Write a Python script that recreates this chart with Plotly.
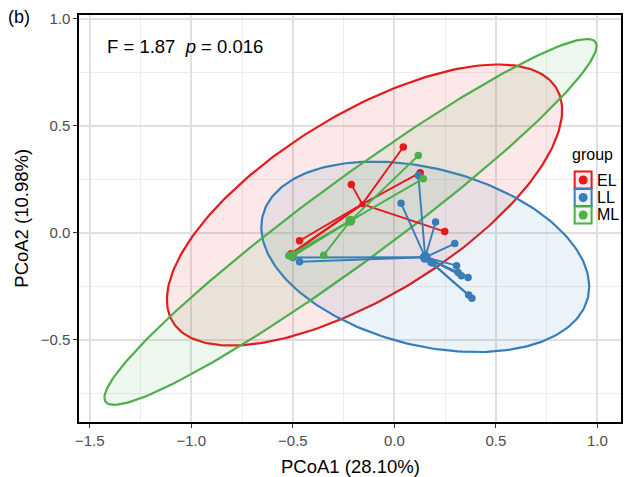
import numpy as np
import plotly.graph_objects as go

# ---------------- data ----------------
groups = ["EL", "LL", "ML"]
colors = {"EL": "#E41A1C", "LL": "#377EB8", "ML": "#4DAF4A"}

EL_x = [0.044, -0.212, 0.127, 0.248, -0.467, -0.508, -0.515]
EL_y = [0.401, 0.226, 0.281, 0.006, -0.037, -0.097, -0.105]
EL_centroid = [-0.158, 0.134]

LL_x = [0.033, 0.118, 0.203, 0.297, -0.467, -0.500, 0.181, 0.191, 0.306, 0.314, 0.330, 0.363, 0.366, 0.382]
LL_y = [0.138, 0.268, 0.051, -0.050, -0.135, -0.115, -0.138, -0.141, -0.153, -0.185, -0.200, -0.208, -0.290, -0.305]
LL_centroid = [0.152, -0.114]

ML_x = [0.118, 0.142, -0.348, -0.520, -0.505, -0.497]
ML_y = [0.361, 0.253, -0.104, -0.107, -0.112, -0.100]
ML_centroid = [-0.217, 0.056]

# ellipse parameters: centre, major semi-axis vector, minor semi-axis vector (data units)
EL_ellipse = {"c": [-0.147, 0.130], "a": [0.945, 0.545], "b": [0.232, -0.365]}
LL_ellipse = {"c": [0.152, -0.112], "a": [0.800, -0.194], "b": [-0.108, -0.400]}
ML_ellipse = {"c": [-0.216, 0.051], "a": [1.206, 0.840], "b": [0.119, -0.154]}

x_title = "PCoA1 (28.10%)"
y_title = "PCoA2 (10.98%)"
stat_text = "F = 1.87\u00a0\u00a0<i>p</i> = 0.016"
panel_label = "(b)"
tick_vals = [-1.5, -1.0, -0.5, 0.0, 0.5, 1.0]

pts = {"EL": (EL_x, EL_y, EL_centroid), "LL": (LL_x, LL_y, LL_centroid), "ML": (ML_x, ML_y, ML_centroid)}
ells = {"EL": EL_ellipse, "LL": LL_ellipse, "ML": ML_ellipse}
centroid_size = {"EL": 6, "LL": 11, "ML": 10}

FONT = "Liberation Sans, Arial, Helvetica, sans-serif"
W, H = 626, 477
ML_, MR_, MT_, MB_ = 79, 3, 15, 55
PW, PH = W - ML_ - MR_, H - MT_ - MB_


def rgba(hexc, a):
    h = hexc.lstrip("#")
    return "rgba(%d,%d,%d,%s)" % (int(h[0:2], 16), int(h[2:4], 16), int(h[4:6], 16), a)


def px2paper(px, py):
    return (px - ML_) / PW, (H - MB_ - py) / PH


fig = go.Figure()

# ellipses
t = np.linspace(0, 2 * np.pi, 240)
for g in groups:
    e = ells[g]
    ex = e["c"][0] + e["a"][0] * np.cos(t) + e["b"][0] * np.sin(t)
    ey = e["c"][1] + e["a"][1] * np.cos(t) + e["b"][1] * np.sin(t)
    fig.add_trace(go.Scatter(x=ex, y=ey, mode="lines", fill="toself",
                             fillcolor=rgba(colors[g], 0.1),
                             line=dict(color=colors[g], width=2.2),
                             hoverinfo="skip", showlegend=False))

# spider segments
for g in groups:
    xs, ys, c = pts[g]
    sx, sy = [], []
    for x, y in zip(xs, ys):
        sx += [c[0], x, None]
        sy += [c[1], y, None]
    fig.add_trace(go.Scatter(x=sx, y=sy, mode="lines",
                             line=dict(color=colors[g], width=1.9),
                             hoverinfo="skip", showlegend=False))

# points and centroids
for g in groups:
    xs, ys, c = pts[g]
    fig.add_trace(go.Scatter(x=xs, y=ys, mode="markers",
                             marker=dict(color=colors[g], size=7.5, line=dict(width=0)),
                             name=g, showlegend=False))
    fig.add_trace(go.Scatter(x=[c[0]], y=[c[1]], mode="markers",
                             marker=dict(color=colors[g], size=centroid_size[g], line=dict(width=0)),
                             name=g + " centroid", showlegend=False))

shapes = []
annotations = []

# manual legend
lx0, lx1 = 576.5, 593.5
key_cy = [180.0, 197.5, 215.0]
gx, gy = px2paper(572, 155)
annotations.append(dict(x=gx, y=gy, xref="paper", yref="paper", text="group",
                        showarrow=False, xanchor="left", yanchor="middle",
                        font=dict(family=FONT, size=16, color="black")))
for g, cy in zip(groups, key_cy):
    x0, y0 = px2paper(lx0, cy + 8.5)
    x1, y1 = px2paper(lx1, cy - 8.5)
    shapes.append(dict(type="rect", xref="paper", yref="paper", x0=x0, y0=y0, x1=x1, y1=y1,
                       line=dict(color=colors[g], width=2), fillcolor=rgba(colors[g], 0.1)))
    cx0, cy0 = px2paper(585 - 4.5, cy + 4.5)
    cx1, cy1 = px2paper(585 + 4.5, cy - 4.5)
    shapes.append(dict(type="circle", xref="paper", yref="paper", x0=cx0, y0=cy0, x1=cx1, y1=cy1,
                       line=dict(width=0), fillcolor=colors[g]))
    tx, ty = px2paper(597, cy)
    annotations.append(dict(x=tx, y=ty, xref="paper", yref="paper", text=g,
                            showarrow=False, xanchor="left", yanchor="middle",
                            font=dict(family=FONT, size=16, color="black")))

# statistic text and panel label
sx_, sy_ = px2paper(105, 47)
annotations.append(dict(x=sx_, y=sy_, xref="paper", yref="paper", text=stat_text,
                        showarrow=False, xanchor="left", yanchor="middle",
                        font=dict(family=FONT, size=18.5, color="black")))
bx_, by_ = px2paper(6, 17)
annotations.append(dict(x=bx_, y=by_, xref="paper", yref="paper", text=panel_label,
                        showarrow=False, xanchor="left", yanchor="middle",
                        font=dict(family=FONT, size=18, color="black")))

# axis titles
atx, aty = px2paper(ML_ + PW / 2, 466)
annotations.append(dict(x=atx, y=aty, xref="paper", yref="paper", text=x_title,
                        showarrow=False, xanchor="center", yanchor="middle",
                        font=dict(family=FONT, size=18.5, color="black")))
ayx, ayy = px2paper(21, MT_ + PH / 2)
annotations.append(dict(x=ayx, y=ayy, xref="paper", yref="paper", text=y_title,
                        showarrow=False, xanchor="center", yanchor="middle", textangle=-90,
                        font=dict(family=FONT, size=18.5, color="black")))

axis_common = dict(
    showline=True, mirror=True, linecolor="black", linewidth=1.5,
    ticks="outside", ticklen=4, tickwidth=1.2, tickcolor="#333333",
    tickfont=dict(family=FONT, size=15, color="#4D4D4D"),
    tickformat=".1f",
    showgrid=True, gridcolor="#E0E0E0", gridwidth=1.7,
    zeroline=False,
    minor=dict(dtick=0.25, tick0=0, showgrid=True, gridcolor="#ECECEC", gridwidth=1.1, ticks=""),
)

fig.update_layout(
    width=W, height=H,
    margin=dict(l=ML_, r=MR_, t=MT_, b=MB_),
    paper_bgcolor="white", plot_bgcolor="white",
    showlegend=False,
    xaxis=dict(range=[-1.553, 1.116], tickvals=tick_vals, **axis_common),
    yaxis=dict(range=[-0.883, 1.017], tickvals=[-0.5, 0.0, 0.5, 1.0], **axis_common),
    shapes=shapes, annotations=annotations,
    font=dict(family=FONT),
)

fig.write_html("out.html")
